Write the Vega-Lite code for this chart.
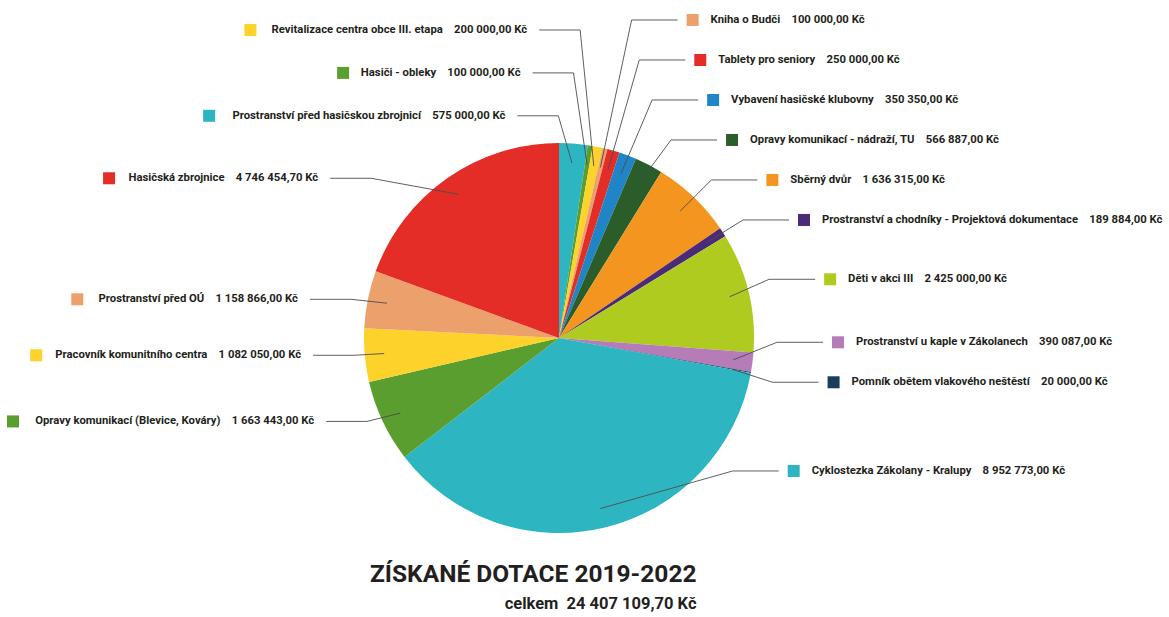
{
  "$schema": "https://vega.github.io/schema/vega-lite/v6.json",
  "width": 1169,
  "height": 617,
  "padding": 0,
  "autosize": {"type": "none"},
  "background": "white",
  "config": {"view": {"stroke": null}},
  "title": {
    "text": "ZÍSKANÉ DOTACE 2019-2022",
    "subtitle": "celkem\u00a0 24 407 109,70 Kč",
    "orient": "bottom",
    "anchor": "middle",
    "frame": "group",
    "align": "right",
    "dx": 112,
    "offset": -54,
    "font": "Roboto",
    "fontSize": 24.5,
    "fontWeight": "bold",
    "color": "#231f20",
    "subtitleFont": "Roboto",
    "subtitleFontSize": 16.5,
    "subtitleFontWeight": "bold",
    "subtitleColor": "#231f20",
    "subtitlePadding": 8
  },
  "data": {
    "values": [
      {"order": 1, "name": "Prostranství před hasičskou zbrojnicí", "value": 575000},
      {"order": 2, "name": "Hasiči - obleky", "value": 100000},
      {"order": 3, "name": "Revitalizace centra obce III. etapa", "value": 200000},
      {"order": 4, "name": "Kniha o Budči", "value": 100000},
      {"order": 5, "name": "Tablety pro seniory", "value": 250000},
      {"order": 6, "name": "Vybavení hasičské klubovny", "value": 350350},
      {"order": 7, "name": "Opravy komunikací - nádraží, TU", "value": 566887},
      {"order": 8, "name": "Sběrný dvůr", "value": 1636315},
      {"order": 9, "name": "Prostranství a chodníky - Projektová dokumentace", "value": 189884},
      {"order": 10, "name": "Děti v akci III", "value": 2425000},
      {"order": 11, "name": "Prostranství u kaple v Zákolanech", "value": 390087},
      {"order": 12, "name": "Pomník obětem vlakového neštěstí", "value": 20000},
      {"order": 13, "name": "Cyklostezka Zákolany - Kralupy", "value": 8952773},
      {"order": 14, "name": "Opravy komunikací (Blevice, Kováry)", "value": 1663443},
      {"order": 15, "name": "Pracovník komunitního centra", "value": 1082050},
      {"order": 16, "name": "Prostranství před OÚ", "value": 1158866},
      {"order": 17, "name": "Hasičská zbrojnice", "value": 4746454.7}
    ]
  },
  "transform": [
    {"joinaggregate": [{"op": "sum", "field": "value", "as": "total"}]},
    {"window": [{"op": "sum", "field": "value", "as": "cum"}], "sort": [{"field": "order"}], "frame": [null, 0]},
    {"calculate": "(datum.cum - datum.value / 2) / datum.total * 2 * PI", "as": "mid"},
    {"calculate": "(datum.mid > PI || datum.mid < 0.22) ? 'left' : 'right'", "as": "side"},
    {"calculate": "datum.side === 'right' ? 1 : -1", "as": "sgn"},
    {"calculate": "datum.side === 'right' ? 0.2051 : 0.22", "as": "gap"},
    {"calculate": "0.9 * sin(datum.mid)", "as": "ax"},
    {"calculate": "-0.9 * cos(datum.mid)", "as": "ay"},
    {"calculate": "datum.side === 'left' ? -(datum.mid < PI ? datum.mid + 2 * PI : datum.mid) : datum.mid", "as": "vkey"},
    {"calculate": "datum.side === 'left' ? -1.5795 : -1.6308", "as": "ytop"},
    {"calculate": "min(0.682, max(datum.ytop, -(datum.side === 'left' ? 1.0 : 1.282) * cos(datum.mid)))", "as": "ynat"},
    {"window": [{"op": "row_number", "as": "idx"}], "groupby": ["side"], "sort": [{"field": "vkey"}]},
    {"calculate": "datum.ynat - datum.idx * datum.gap", "as": "u"},
    {"window": [{"op": "min", "field": "u", "as": "umin"}], "groupby": ["side"], "sort": [{"field": "vkey"}], "frame": [0, null]},
    {"calculate": "datum.ytop + (datum.idx - 1) * datum.gap", "as": "slot"},
    {"calculate": "datum.side === 'left' && cos(datum.mid) > 0.95", "as": "isSlot"},
    {"calculate": "datum.isSlot ? datum.slot : max(datum.umin + datum.idx * datum.gap, datum.slot)", "as": "ly"},
    {"calculate": "datum.side === 'right' ? 1.118 : 1.06", "as": "ea"},
    {"calculate": "datum.side === 'right' ? 1.128 : 1.54", "as": "eb"},
    {"calculate": "1 - (datum.ly / datum.eb) * (datum.ly / datum.eb)", "as": "q"},
    {"calculate": "(!datum.isSlot && datum.q > 0) ? datum.ea * sqrt(datum.q) - (datum.side === 'left' ? 0.08 * datum.ly : 0) : -99", "as": "circ"},
    {"calculate": "datum.sgn * max(datum.sgn * datum.ax + (datum.side === 'right' ? 0.16 : 0.07), datum.circ)", "as": "ex"},
    {"calculate": "datum.ex + datum.sgn * (datum.side === 'right' ? 0.236 : 0.21)", "as": "hx"},
    {"calculate": "replace(replace(format(datum.value, ',.2f'), regexp(',', 'g'), ' '), '.', ',') + ' Kč'", "as": "amount"},
    {"calculate": "datum.name + '\u00a0\u00a0\u00a0\u00a0' + datum.amount", "as": "label"},
    {"calculate": "length(datum.label) - length(replace(datum.label, regexp('[iIlíj., \u00a0-]', 'g'), ''))", "as": "n1"},
    {"calculate": "length(datum.label) - length(replace(datum.label, regexp('[rtf()]', 'g'), ''))", "as": "n2"},
    {"calculate": "length(datum.label) - length(replace(datum.label, regexp('[mw]', 'g'), ''))", "as": "nm"},
    {"calculate": "length(datum.label) - length(replace(datum.label, regexp('[A-HJ-ZÚÁČŘŠŽ]', 'g'), ''))", "as": "nu"},
    {"calculate": "length(datum.label) * 0.03159 - datum.n1 * 0.0158 - datum.n2 * 0.01077 + datum.nm * 0.01795 + datum.nu * 0.00615", "as": "west"},
    {"calculate": "datum.side === 'right' ? datum.hx + 0.077 : datum.hx - 0.0615 - datum.west - 0.092", "as": "sqx"},
    {"calculate": "datum.side === 'right' ? datum.sqx + 0.092 : datum.hx - 0.0615", "as": "tx"}
  ],
  "layer": [
    {
      "mark": {"type": "arc", "radius": 195, "strokeWidth": 0},
      "encoding": {
        "theta": {"field": "value", "type": "quantitative", "stack": true},
        "order": {"field": "order", "type": "quantitative"},
        "color": {
          "field": "name", "type": "nominal", "legend": null,
          "scale": {
            "domain": ["Prostranství před hasičskou zbrojnicí", "Hasiči - obleky", "Revitalizace centra obce III. etapa", "Kniha o Budči", "Tablety pro seniory", "Vybavení hasičské klubovny", "Opravy komunikací - nádraží, TU", "Sběrný dvůr", "Prostranství a chodníky - Projektová dokumentace", "Děti v akci III", "Prostranství u kaple v Zákolanech", "Pomník obětem vlakového neštěstí", "Cyklostezka Zákolany - Kralupy", "Opravy komunikací (Blevice, Kováry)", "Pracovník komunitního centra", "Prostranství před OÚ", "Hasičská zbrojnice"],
            "range": ["#2db6c2", "#5a9e2f", "#fdd22a", "#eca06c", "#e42d27", "#1f85c7", "#2b5d2b", "#f4951f", "#4b2a7a", "#afcb1f", "#b57cb7", "#173f5d", "#2db6c2", "#5a9e2f", "#fdd22a", "#eca06c", "#e42d27"]
          }
        },
        "x": {"datum": 0, "type": "quantitative", "axis": null, "scale": {"domain": [-2.8667, 3.1282], "nice": false, "zero": false}},
        "y": {"datum": 0, "type": "quantitative", "axis": null, "scale": {"domain": [-1.7333, 1.4308], "nice": false, "zero": false, "reverse": true}}
      }
    },
    {
      "mark": {"type": "rule", "color": "#4d4d4d", "strokeWidth": 0.9},
      "encoding": {
        "x": {"field": "ax", "type": "quantitative", "axis": null, "scale": {"domain": [-2.8667, 3.1282], "nice": false, "zero": false}},
        "y": {"field": "ay", "type": "quantitative", "axis": null, "scale": {"domain": [-1.7333, 1.4308], "nice": false, "zero": false, "reverse": true}},
        "x2": {"field": "ex"},
        "y2": {"field": "ly"}
      }
    },
    {
      "mark": {"type": "rule", "color": "#4d4d4d", "strokeWidth": 0.9},
      "encoding": {
        "x": {"field": "ex", "type": "quantitative", "axis": null, "scale": {"domain": [-2.8667, 3.1282], "nice": false, "zero": false}},
        "y": {"field": "ly", "type": "quantitative", "axis": null, "scale": {"domain": [-1.7333, 1.4308], "nice": false, "zero": false, "reverse": true}},
        "x2": {"field": "hx"}
      }
    },
    {
      "mark": {"type": "point", "shape": "square", "size": 144, "filled": true, "opacity": 1, "strokeWidth": 0},
      "encoding": {
        "x": {"field": "sqx", "type": "quantitative", "axis": null, "scale": {"domain": [-2.8667, 3.1282], "nice": false, "zero": false}},
        "y": {"field": "ly", "type": "quantitative", "axis": null, "scale": {"domain": [-1.7333, 1.4308], "nice": false, "zero": false, "reverse": true}},
        "color": {"field": "name", "type": "nominal", "legend": null}
      }
    },
    {
      "transform": [{"filter": "datum.side === 'right'"}],
      "mark": {"type": "text", "align": "left", "baseline": "middle", "font": "Roboto", "fontSize": 11.3, "fontWeight": "bold", "color": "#231f20"},
      "encoding": {
        "x": {"field": "tx", "type": "quantitative", "axis": null, "scale": {"domain": [-2.8667, 3.1282], "nice": false, "zero": false}},
        "y": {"field": "ly", "type": "quantitative", "axis": null, "scale": {"domain": [-1.7333, 1.4308], "nice": false, "zero": false, "reverse": true}},
        "text": {"field": "label"}
      }
    },
    {
      "transform": [{"filter": "datum.side === 'left'"}],
      "mark": {"type": "text", "align": "right", "baseline": "middle", "font": "Roboto", "fontSize": 11.3, "fontWeight": "bold", "color": "#231f20"},
      "encoding": {
        "x": {"field": "tx", "type": "quantitative", "axis": null, "scale": {"domain": [-2.8667, 3.1282], "nice": false, "zero": false}},
        "y": {"field": "ly", "type": "quantitative", "axis": null, "scale": {"domain": [-1.7333, 1.4308], "nice": false, "zero": false, "reverse": true}},
        "text": {"field": "label"}
      }
    }
  ]
}
